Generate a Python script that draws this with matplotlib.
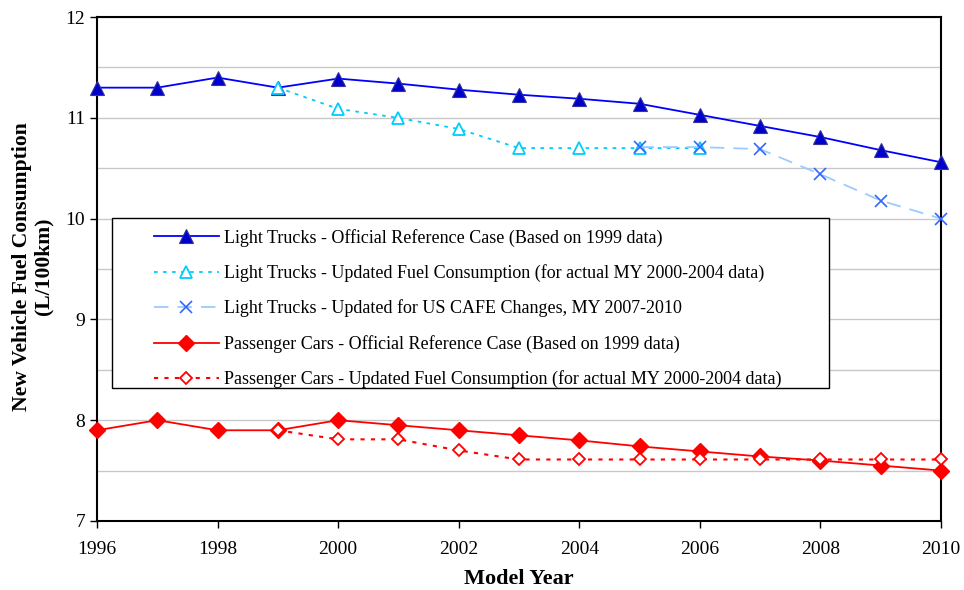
import numpy as np
import matplotlib.pyplot as plt
from matplotlib.patches import Rectangle

# -----------------------------------------------------
# Data
# -----------------------------------------------------

years = list(range(1996, 2011))

lt_official = [11.3, 11.3, 11.4, 11.3, 11.39, 11.34, 11.28, 11.23, 11.19,
               11.14, 11.03, 10.92, 10.81, 10.68, 10.56]

lt_update_years = list(range(1999, 2007))
lt_updated = [11.3, 11.09, 11.0, 10.89, 10.7, 10.7, 10.7, 10.7]

cafe_years = list(range(2005, 2011))
lt_cafe = [10.71, 10.71, 10.69, 10.44, 10.18, 10.0]

pc_official = [7.9, 8.0, 7.9, 7.9, 8.0, 7.95, 7.9, 7.85, 7.8,
               7.74, 7.69, 7.64, 7.6, 7.55, 7.5]

pc_update_years = list(range(1999, 2011))
pc_updated = [7.9, 7.81, 7.81, 7.7, 7.61, 7.61, 7.61, 7.61, 7.61,
              7.61, 7.61, 7.61]

labels = [
    "Light Trucks - Official Reference Case (Based on 1999 data)",
    "Light Trucks - Updated Fuel Consumption (for actual MY 2000-2004 data)",
    "Light Trucks - Updated for US CAFE Changes, MY 2007-2010",
    "Passenger Cars - Official Reference Case (Based on 1999 data)",
    "Passenger Cars - Updated Fuel Consumption (for actual MY 2000-2004 data)",
]

# -----------------------------------------------------
# Figure
# -----------------------------------------------------

plt.rcParams["font.family"] = ["Liberation Serif", "DejaVu Serif"]

fig = plt.figure(figsize=(9.64, 5.9), dpi=100)
ax = fig.add_axes([0.1006, 0.117, 0.8755, 0.854])

ax.plot(years, lt_official, color="#0000FF", linewidth=1.3,
        marker="^", markersize=10, markerfacecolor="#0000CC",
        markeredgecolor="#333399", markeredgewidth=0.8,
        label=labels[0], clip_on=False, zorder=3)

ax.plot(lt_update_years, lt_updated, color="#00CCFF", linewidth=1.3,
        linestyle=(0, (2, 3)), marker="^", markersize=9,
        markerfacecolor="white", markeredgecolor="#00CCFF",
        markeredgewidth=1.3, label=labels[1], clip_on=False, zorder=3)

ax.plot(cafe_years, lt_cafe, color="#99CCFF", linewidth=1.3,
        linestyle=(0, (8, 5)), marker="x", markersize=9,
        markeredgecolor="#3366FF", markeredgewidth=1.2,
        label=labels[2], clip_on=False, zorder=3)

ax.plot(years, pc_official, color="#FF0000", linewidth=1.3,
        marker="D", markersize=8, markerfacecolor="#FF0000",
        markeredgecolor="#FF0000", label=labels[3],
        clip_on=False, zorder=3)

ax.plot(pc_update_years, pc_updated, color="#FF0000", linewidth=1.5,
        linestyle=(0, (2, 3)), marker="D", markersize=6,
        markerfacecolor="white", markeredgecolor="#FF0000",
        markeredgewidth=1.3, label=labels[4], clip_on=False, zorder=3)

# -----------------------------------------------------
# Axes styling
# -----------------------------------------------------

ax.set_xlim(1996, 2010)
ax.set_ylim(7, 12)
ax.set_xticks(np.arange(1996, 2011, 2))
ax.set_yticks(np.arange(7, 13, 1))
ax.set_yticks(np.arange(7, 12.01, 0.5), minor=True)
ax.tick_params(axis="both", labelsize=14, direction="out", length=5,
               width=1, color="black")
ax.tick_params(axis="x", pad=9.5)
ax.tick_params(axis="y", which="minor", length=0)
ax.grid(True, which="both", axis="y", color="#C8C8C8", linewidth=1)
ax.set_axisbelow(True)

for spine in ax.spines.values():
    spine.set_linewidth(1.5)
    spine.set_color("black")

ax.set_xlabel("Model Year", fontsize=16, fontweight="bold", labelpad=8)
ax.set_ylabel("New Vehicle Fuel Consumption\n(L/100km)", fontsize=15.6,
              fontweight="bold", linespacing=1.1)
ax.yaxis.set_label_coords(-0.052, 0.505)

# legend box with manual frame
ax.add_patch(Rectangle((0.0178, 0.264), 0.8495, 0.337,
                       transform=ax.transAxes, facecolor="white",
                       edgecolor="black", linewidth=1, zorder=4))

ax.legend(loc="upper left", bbox_to_anchor=(0.0565, 0.598),
          frameon=False, fontsize=13.0, handlelength=3.6,
          handletextpad=0.27, labelspacing=0.97, borderpad=0)

fig.savefig("out.png", dpi=100)
plt.close()
